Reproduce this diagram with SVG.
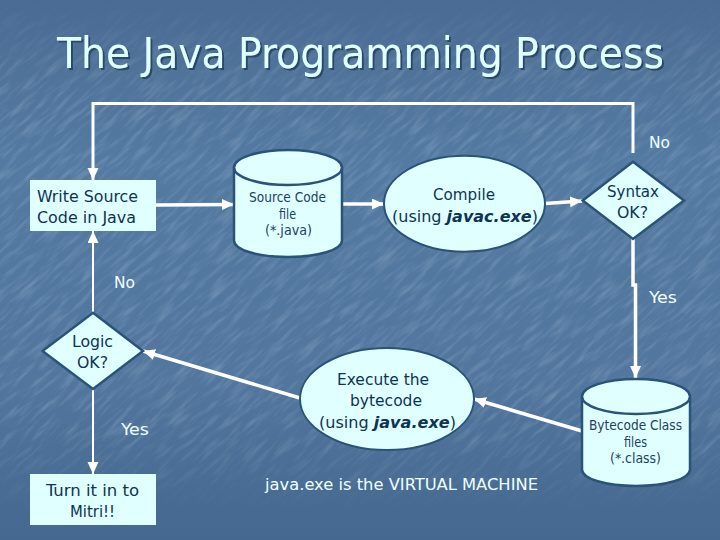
<svg xmlns="http://www.w3.org/2000/svg" width="720" height="540" viewBox="0 0 720 540">
<style>
text{font-family:"DejaVu Sans Condensed","DejaVu Sans","Liberation Sans",sans-serif;font-stretch:condensed}
.n{fill:#e0ffff;stroke:#2a5378;stroke-width:2.5}
.o{fill:#e0ffff;stroke:#2a5378;stroke-width:2}
.b{fill:#e0ffff;stroke:none}
.t{fill:#0c3454;font-size:16.500px}
.s{fill:#1a4262;font-size:13.500px}
.w{fill:#f0ffff;font-size:16.500px}
.c{fill:none;stroke:#fff}
.e{font-weight:bold;font-style:italic}
</style>
<defs>
<linearGradient id="bg" x1="0" y1="0" x2="0" y2="1">
<stop offset="0" stop-color="#4a6b94"/><stop offset=".12" stop-color="#4f7299"/><stop offset=".3" stop-color="#547aa2"/><stop offset=".7" stop-color="#52769e"/><stop offset=".9" stop-color="#486c93"/><stop offset="1" stop-color="#456890"/>
</linearGradient>
<linearGradient id="fade" x1="0" y1="0" x2="0" y2="1">
<stop offset="0" stop-color="#fff" stop-opacity="0"/><stop offset=".15" stop-color="#fff" stop-opacity="1"/><stop offset=".8" stop-color="#fff" stop-opacity="1"/><stop offset=".95" stop-color="#fff" stop-opacity="0"/>
</linearGradient>
<mask id="m"><rect width="720" height="540" fill="url(#fade)"/></mask>
<filter id="tex" x="0" y="0" width="100%" height="100%">
<feTurbulence type="fractalNoise" baseFrequency="0.035 0.22" numOctaves="3" seed="7"/>
<feColorMatrix values="0 0 0 0 .72  0 0 0 0 .82  0 0 0 0 .92  1.4 0 0 0 -.62"/>
</filter>
<filter id="sh" x="-5%" y="-20%" width="110%" height="140%"><feDropShadow dx="2" dy="2" stdDeviation=".4" flood-color="#2c4a6a"/></filter>
<marker id="a" markerUnits="userSpaceOnUse" markerWidth="14" markerHeight="12" refX="12" refY="5.500" orient="auto"><path d="M0 0L12 5.500L0 11Z" fill="#fff"/></marker>
<g id="cyl"><path class="n" d="M0 17.500V90.500C0 100 24 107 54 107S108 100 108 90.500V17.500"/><ellipse class="n" cx="54" cy="17.500" rx="54" ry="17.500"/></g>
</defs>
<rect width="720" height="540" fill="url(#bg)"/>
<g mask="url(#m)"><rect x="-200" y="-200" width="1120" height="940" filter="url(#tex)" transform="rotate(-42 360 270)" opacity=".32"/></g>
<text x="57" y="68" font-size="43" fill="#e0ffff" textLength="607" lengthAdjust="spacingAndGlyphs" filter="url(#sh)">The Java Programming Process</text>
<g id="connectors">
<path class="c" stroke-width="3" d="M633 153V103.500H93V180" marker-end="url(#a)"/>
<path class="c" stroke-width="3.500" d="M156 205L234 204.500" marker-end="url(#a)"/>
<path class="c" stroke-width="3.500" d="M342 204H384" marker-end="url(#a)"/>
<path class="c" stroke-width="3.500" d="M545 203.500L582 201" marker-end="url(#a)"/>
<path class="c" stroke-width="3.500" d="M633 239V285H635.500V378" marker-end="url(#a)"/>
<path class="c" stroke-width="2" d="M93 313V231" marker-end="url(#a)"/>
<path class="c" stroke-width="2" d="M93 389V474" marker-end="url(#a)"/>
<path class="c" stroke-width="3.500" d="M300 398L143 351" marker-end="url(#a)"/>
<path class="c" stroke-width="3.500" d="M582 431L474 399" marker-end="url(#a)"/>
</g>
<g id="write"><rect class="b" x="30" y="180" width="126" height="51"/>
<text class="t" x="37" y="201.500" textLength="101" lengthAdjust="spacingAndGlyphs">Write Source</text>
<text class="t" x="37" y="222.500" textLength="99" lengthAdjust="spacingAndGlyphs">Code in Java</text></g>
<g id="source"><use href="#cyl" x="234" y="150"/>
<text class="s" x="249" y="202" textLength="77" lengthAdjust="spacingAndGlyphs">Source Code</text>
<text class="s" x="279" y="219" textLength="17" lengthAdjust="spacingAndGlyphs">file</text>
<text class="s" x="265" y="235" textLength="47" lengthAdjust="spacingAndGlyphs">(*.java)</text></g>
<g id="compile"><ellipse class="o" cx="464.500" cy="203.700" rx="80.500" ry="48"/>
<text class="t" x="433" y="200" textLength="62" lengthAdjust="spacingAndGlyphs">Compile</text>
<text class="t" x="392" y="222" textLength="146" lengthAdjust="spacingAndGlyphs">(using <tspan class="e">javac.exe</tspan>)</text></g>
<g id="syntax"><path class="n" d="M633 161.700L684 200.500L633 239L582.700 200.500Z"/>
<text class="t" x="607" y="197" textLength="52" lengthAdjust="spacingAndGlyphs">Syntax</text>
<text class="t" x="617" y="218" textLength="31" lengthAdjust="spacingAndGlyphs">OK?</text></g>
<g id="bytecode"><use href="#cyl" x="582" y="379"/>
<text class="s" x="589" y="430" textLength="93" lengthAdjust="spacingAndGlyphs">Bytecode Class</text>
<text class="s" x="624" y="447" textLength="23" lengthAdjust="spacingAndGlyphs">files</text>
<text class="s" x="610" y="463" textLength="51" lengthAdjust="spacingAndGlyphs">(*.class)</text></g>
<g id="execute"><ellipse class="o" cx="387" cy="399" rx="87" ry="51"/>
<text class="t" x="337" y="385" textLength="92" lengthAdjust="spacingAndGlyphs">Execute the</text>
<text class="t" x="350" y="406" textLength="72" lengthAdjust="spacingAndGlyphs">bytecode</text>
<text class="t" x="319" y="428" textLength="137" lengthAdjust="spacingAndGlyphs">(using <tspan class="e">java.exe</tspan>)</text></g>
<g id="logic"><path class="n" d="M93 312.700L143 351L93 389L42.500 351Z"/>
<text class="t" x="72" y="347" textLength="41" lengthAdjust="spacingAndGlyphs">Logic</text>
<text class="t" x="77" y="368" textLength="31" lengthAdjust="spacingAndGlyphs">OK?</text></g>
<g id="turnin"><rect class="b" x="30" y="474" width="126" height="51"/>
<text class="t" x="46" y="496" textLength="93" lengthAdjust="spacingAndGlyphs">Turn it in to</text>
<text class="t" x="70" y="517" textLength="45" lengthAdjust="spacingAndGlyphs">Mitri!!</text></g>
<g id="labels">
<text class="w" x="649" y="148" textLength="21" lengthAdjust="spacingAndGlyphs">No</text>
<text class="w" x="649" y="303" textLength="28" lengthAdjust="spacingAndGlyphs">Yes</text>
<text class="w" x="114" y="288" textLength="21" lengthAdjust="spacingAndGlyphs">No</text>
<text class="w" x="121" y="435" textLength="28" lengthAdjust="spacingAndGlyphs">Yes</text>
<text class="w" x="265" y="490" textLength="273" lengthAdjust="spacingAndGlyphs">java.exe is the VIRTUAL MACHINE</text>
</g>
</svg>
